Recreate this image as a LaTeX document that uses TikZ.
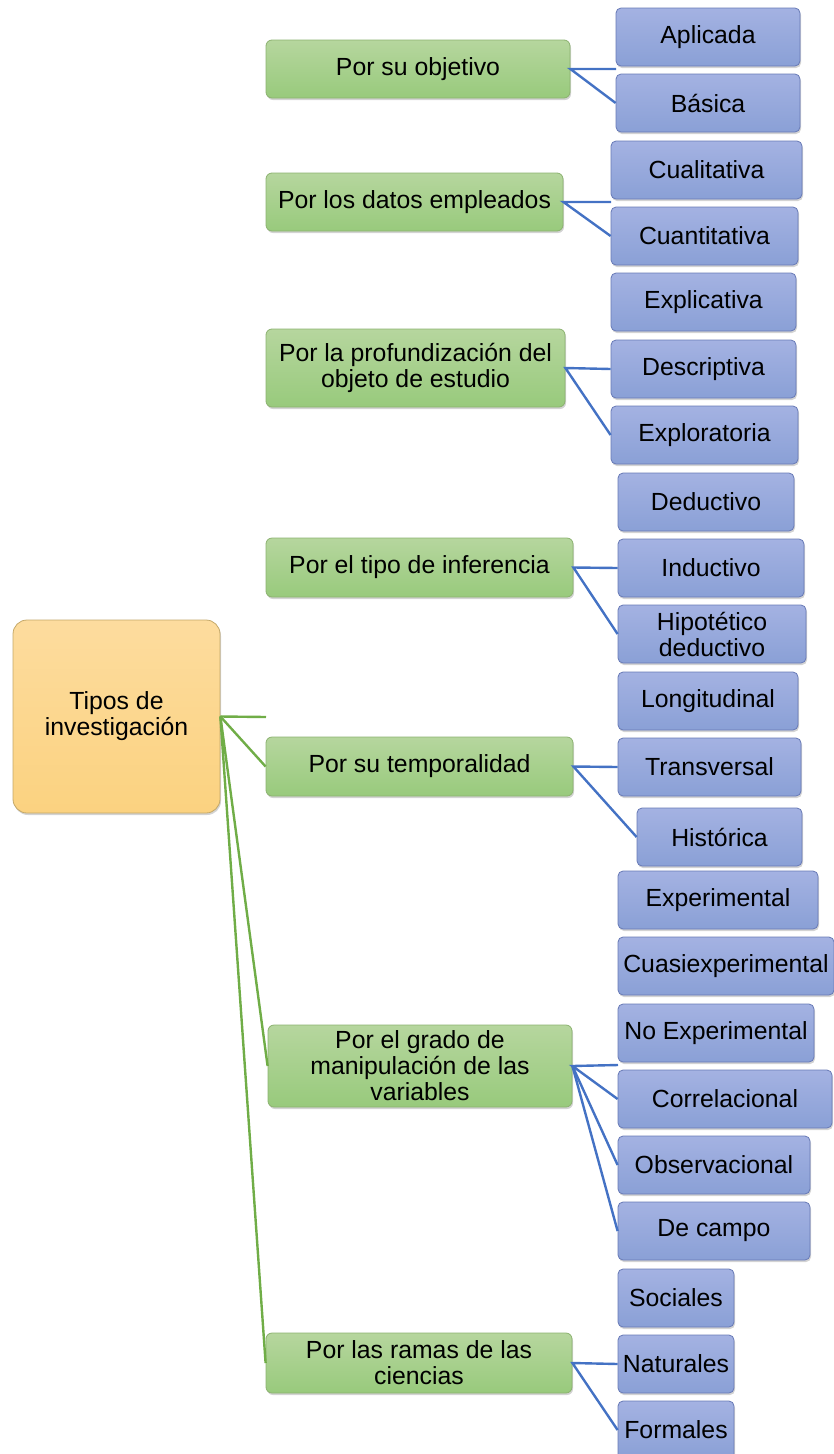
\documentclass[tikz,border=0pt]{standalone}
\usepackage{fontspec}
\setmainfont{Liberation Sans}
\usetikzlibrary{shadows}
\definecolor{gtop}{RGB}{182,214,158}
\definecolor{gbot}{RGB}{152,202,124}
\definecolor{gline}{RGB}{140,178,112}
\definecolor{btop}{RGB}{164,178,226}
\definecolor{bbot}{RGB}{138,160,214}
\definecolor{bline}{RGB}{104,122,182}
\definecolor{otop}{RGB}{253,220,158}
\definecolor{obot}{RGB}{251,210,128}
\definecolor{oline}{RGB}{196,168,104}
\definecolor{blueconn}{RGB}{68,114,196}
\definecolor{greenconn}{RGB}{112,173,71}
\tikzset{
  basebox/.style={inner sep=2pt, align=center, text=black,
    font=\fontsize{24.8}{26}\selectfont, line width=0.8pt,
    drop shadow={shadow xshift=1pt, shadow yshift=-2pt, opacity=0.35}},
  greenbox/.style={basebox, draw=gline, top color=gtop, bottom color=gbot, rounded corners=6pt},
  bluebox/.style={basebox, draw=bline, top color=btop, bottom color=bbot, rounded corners=5pt},
  rootbox/.style={basebox, draw=oline, top color=otop, bottom color=obot, rounded corners=14pt},
  bconn/.style={draw=blueconn, line width=2.4pt},
  gconn/.style={draw=greenconn, line width=2.4pt}
}
\newcommand\drawbox[7]{\node[#1, minimum width={(#4-#3)*1pt}, minimum height={(#6-#5)*1pt}] (#2) at ({(#3+#4)/2},{(#5+#6)/2}) {#7};}
\begin{document}
\begin{tikzpicture}[x=1pt,y=-1pt]
\useasboundingbox (0,0) rectangle (834,1454);
% root
\drawbox{rootbox}{root}{13}{220}{620}{813}{Tipos de\\investigación}
% green category boxes
\drawbox{greenbox}{g1}{266}{570}{40}{98}{Por su objetivo}
\drawbox{greenbox}{g2}{266}{563}{173}{231}{Por los datos empleados}
\drawbox{greenbox}{g3}{266}{565}{329}{407}{Por la profundización del\\objeto de estudio}
\drawbox{greenbox}{g4}{266}{573}{538}{597}{Por el tipo de inferencia}
\drawbox{greenbox}{g5}{266}{573}{737}{796}{Por su temporalidad}
\drawbox{greenbox}{g6}{268}{572}{1025}{1107}{Por el grado de\\manipulación de las\\variables}
\drawbox{greenbox}{g7}{266}{572}{1333}{1393}{Por las ramas de las\\ciencias}
% blue leaf boxes
\drawbox{bluebox}{b1}{616}{800}{8}{66}{Aplicada}
\drawbox{bluebox}{b2}{616}{800}{74}{132}{Básica}
\drawbox{bluebox}{b3}{611}{802}{141}{199}{Cualitativa}
\drawbox{bluebox}{b4}{611}{798}{207}{265}{Cuantitativa}
\drawbox{bluebox}{b5}{611}{796}{273}{331}{Explicativa}
\drawbox{bluebox}{b6}{611}{796}{340}{398}{Descriptiva}
\drawbox{bluebox}{b7}{611}{798}{406}{464}{Exploratoria}
\drawbox{bluebox}{b8}{618}{794}{473}{531}{Deductivo}
\drawbox{bluebox}{b9}{618}{804}{539}{597}{Inductivo}
\drawbox{bluebox}{b10}{618}{806}{605}{663}{Hipotético\\deductivo}
\drawbox{bluebox}{b11}{618}{798}{672}{730}{Longitudinal}
\drawbox{bluebox}{b12}{618}{801}{738}{796}{Transversal}
\drawbox{bluebox}{b13}{637}{802}{808}{866}{Histórica}
\drawbox{bluebox}{b14}{618}{818}{871}{929}{Experimental}
\drawbox{bluebox}{b15}{618}{834}{937}{995}{Cuasiexperimental}
\drawbox{bluebox}{b16}{618}{814}{1004}{1062}{No Experimental}
\drawbox{bluebox}{b17}{618}{832}{1070}{1128}{Correlacional}
\drawbox{bluebox}{b18}{618}{810}{1136}{1194}{Observacional}
\drawbox{bluebox}{b19}{618}{810}{1202}{1260}{De campo}
\drawbox{bluebox}{b20}{618}{734}{1269}{1327}{Sociales}
\drawbox{bluebox}{b21}{618}{734}{1335}{1393}{Naturales}
\drawbox{bluebox}{b22}{618}{734}{1401}{1459}{Formales}
% free ends
\coordinate (e1) at (616,69);
\coordinate (e2) at (611,202);
\coordinate (e6) at (618,1065);
\coordinate (er) at (266,717);
% blue connectors
\draw[bconn] (e1) -- (g1.east) -- (b2.west);
\draw[bconn] (e2) -- (g2.east) -- (b4.west);
\draw[bconn] (b6.west) -- (g3.east) -- (b7.west);
\draw[bconn] (b9.west) -- (g4.east) -- (b10.west);
\draw[bconn] (b12.west) -- (g5.east) -- (b13.west);
\draw[bconn] (e6) -- (g6.east) -- (b17.west);
\draw[bconn] (g6.east) -- (b18.west);
\draw[bconn] (g6.east) -- (b19.west);
\draw[bconn] (b21.west) -- (g7.east) -- (b22.west);
% green connectors
\draw[gconn] (root.east) -- (er);
\draw[gconn] (root.east) -- (g5.west);
\draw[gconn] (root.east) -- (g6.west);
\draw[gconn] (root.east) -- (g7.west);
\end{tikzpicture}
\end{document}
